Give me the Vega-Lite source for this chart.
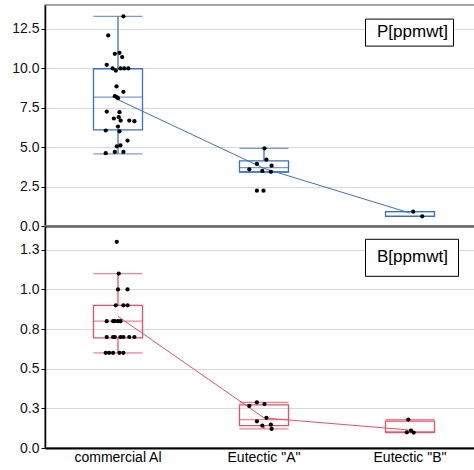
{
  "$schema": "https://vega.github.io/schema/vega-lite/v6.json",
  "padding": {"left": 11, "top": 4, "right": 0, "bottom": 0},
  "spacing": 0,
  "bounds": "flush",
  "datasets": {
    "P_points": [
      {"group": "commercial Al", "value": 13.28, "jitter": 0.22},
      {"group": "commercial Al", "value": 12.07, "jitter": -0.40},
      {"group": "commercial Al", "value": 10.97, "jitter": 0.06},
      {"group": "commercial Al", "value": 10.91, "jitter": -0.13},
      {"group": "commercial Al", "value": 10.70, "jitter": 0.17},
      {"group": "commercial Al", "value": 10.21, "jitter": -0.46},
      {"group": "commercial Al", "value": 9.98, "jitter": -0.22},
      {"group": "commercial Al", "value": 9.85, "jitter": -0.09},
      {"group": "commercial Al", "value": 9.98, "jitter": 0.10},
      {"group": "commercial Al", "value": 9.98, "jitter": 0.25},
      {"group": "commercial Al", "value": 9.98, "jitter": 0.42},
      {"group": "commercial Al", "value": 8.84, "jitter": -0.06},
      {"group": "commercial Al", "value": 8.50, "jitter": 0.22},
      {"group": "commercial Al", "value": 8.22, "jitter": -0.13},
      {"group": "commercial Al", "value": 8.16, "jitter": -0.05},
      {"group": "commercial Al", "value": 8.10, "jitter": 0.00},
      {"group": "commercial Al", "value": 7.25, "jitter": -0.46},
      {"group": "commercial Al", "value": 7.21, "jitter": 0.06},
      {"group": "commercial Al", "value": 6.81, "jitter": -0.17},
      {"group": "commercial Al", "value": 6.89, "jitter": 0.03},
      {"group": "commercial Al", "value": 6.68, "jitter": 0.11},
      {"group": "commercial Al", "value": 6.68, "jitter": 0.46},
      {"group": "commercial Al", "value": 6.64, "jitter": 0.67},
      {"group": "commercial Al", "value": 6.30, "jitter": 0.00},
      {"group": "commercial Al", "value": 6.05, "jitter": -0.50},
      {"group": "commercial Al", "value": 6.00, "jitter": 0.06},
      {"group": "commercial Al", "value": 5.41, "jitter": 0.39},
      {"group": "commercial Al", "value": 5.05, "jitter": -0.05},
      {"group": "commercial Al", "value": 5.10, "jitter": 0.10},
      {"group": "commercial Al", "value": 4.61, "jitter": -0.50},
      {"group": "commercial Al", "value": 4.69, "jitter": -0.13},
      {"group": "commercial Al", "value": 4.69, "jitter": 0.22},
      {"group": "Eutectic \"A\"", "value": 4.92, "jitter": 0.02},
      {"group": "Eutectic \"A\"", "value": 4.20, "jitter": 0.10},
      {"group": "Eutectic \"A\"", "value": 3.93, "jitter": -0.29},
      {"group": "Eutectic \"A\"", "value": 3.82, "jitter": 0.31},
      {"group": "Eutectic \"A\"", "value": 3.59, "jitter": -0.60},
      {"group": "Eutectic \"A\"", "value": 3.49, "jitter": -0.07},
      {"group": "Eutectic \"A\"", "value": 3.43, "jitter": 0.28},
      {"group": "Eutectic \"A\"", "value": 2.24, "jitter": -0.29},
      {"group": "Eutectic \"A\"", "value": 2.24, "jitter": -0.02},
      {"group": "Eutectic \"B\"", "value": 0.91, "jitter": 0.13},
      {"group": "Eutectic \"B\"", "value": 0.61, "jitter": 0.50}
    ],
    "P_stats": [
      {"group": "commercial Al", "element": "P[ppmwt]", "lower": 4.57, "q1": 6.09, "median": 8.16, "q3": 9.96, "upper": 13.28, "mean": 8.0},
      {"group": "Eutectic \"A\"", "element": "P[ppmwt]", "lower": 3.42, "q1": 3.42, "median": 3.70, "q3": 4.12, "upper": 4.92, "mean": 3.65},
      {"group": "Eutectic \"B\"", "element": "P[ppmwt]", "lower": 0.61, "q1": 0.61, "median": 0.61, "q3": 0.91, "upper": 0.91, "mean": 0.82}
    ],
    "B_points": [
      {"group": "commercial Al", "value": 1.30, "jitter": -0.05},
      {"group": "commercial Al", "value": 1.10, "jitter": 0.03},
      {"group": "commercial Al", "value": 1.00, "jitter": 0.00},
      {"group": "commercial Al", "value": 1.00, "jitter": 0.39},
      {"group": "commercial Al", "value": 0.90, "jitter": -0.09},
      {"group": "commercial Al", "value": 0.90, "jitter": 0.22},
      {"group": "commercial Al", "value": 0.90, "jitter": 0.39},
      {"group": "commercial Al", "value": 0.80, "jitter": -0.46},
      {"group": "commercial Al", "value": 0.80, "jitter": -0.20},
      {"group": "commercial Al", "value": 0.80, "jitter": -0.13},
      {"group": "commercial Al", "value": 0.80, "jitter": 0.00},
      {"group": "commercial Al", "value": 0.80, "jitter": 0.10},
      {"group": "commercial Al", "value": 0.70, "jitter": -0.46},
      {"group": "commercial Al", "value": 0.70, "jitter": -0.20},
      {"group": "commercial Al", "value": 0.70, "jitter": -0.13},
      {"group": "commercial Al", "value": 0.70, "jitter": 0.10},
      {"group": "commercial Al", "value": 0.70, "jitter": 0.22},
      {"group": "commercial Al", "value": 0.70, "jitter": 0.46},
      {"group": "commercial Al", "value": 0.70, "jitter": 0.67},
      {"group": "commercial Al", "value": 0.60, "jitter": -0.50},
      {"group": "commercial Al", "value": 0.60, "jitter": -0.36},
      {"group": "commercial Al", "value": 0.60, "jitter": -0.20},
      {"group": "commercial Al", "value": 0.60, "jitter": 0.06},
      {"group": "commercial Al", "value": 0.60, "jitter": 0.22},
      {"group": "Eutectic \"A\"", "value": 0.288, "jitter": -0.29},
      {"group": "Eutectic \"A\"", "value": 0.277, "jitter": 0.02},
      {"group": "Eutectic \"A\"", "value": 0.265, "jitter": -0.60},
      {"group": "Eutectic \"A\"", "value": 0.19, "jitter": 0.10},
      {"group": "Eutectic \"A\"", "value": 0.168, "jitter": -0.29},
      {"group": "Eutectic \"A\"", "value": 0.141, "jitter": -0.07},
      {"group": "Eutectic \"A\"", "value": 0.147, "jitter": 0.28},
      {"group": "Eutectic \"A\"", "value": 0.12, "jitter": 0.31},
      {"group": "Eutectic \"B\"", "value": 0.179, "jitter": -0.07},
      {"group": "Eutectic \"B\"", "value": 0.099, "jitter": -0.13},
      {"group": "Eutectic \"B\"", "value": 0.11, "jitter": 0.04},
      {"group": "Eutectic \"B\"", "value": 0.097, "jitter": 0.15}
    ],
    "B_stats": [
      {"group": "commercial Al", "element": "B[ppmwt]", "lower": 0.60, "q1": 0.695, "median": 0.80, "q3": 0.90, "upper": 1.10, "mean": 0.83},
      {"group": "Eutectic \"A\"", "element": "B[ppmwt]", "lower": 0.12, "q1": 0.141, "median": 0.179, "q3": 0.272, "upper": 0.288, "mean": 0.19},
      {"group": "Eutectic \"B\"", "element": "B[ppmwt]", "lower": 0.097, "q1": 0.10, "median": 0.10, "q3": 0.17, "upper": 0.179, "mean": 0.113}
    ]
  },
  "vconcat": [
    {
      "width": 438,
      "height": 221,
      "encoding": {
        "x": {"field": "group", "type": "nominal", "sort": ["commercial Al", "Eutectic \"A\"", "Eutectic \"B\""], "title": null,
              "scale": {"paddingInner": 0, "paddingOuter": 0},
              "axis": {"labels": false, "ticks": false, "domainColor": "black", "domainWidth": 2, "grid": false, "minExtent": 0, "maxExtent": 0, "labelPadding": 0}}
      },
      "layer": [
        {"data": {"name": "P_stats"}, "mark": {"type": "rule", "strokeWidth": 1.3},
         "encoding": {
           "y": {"field": "lower", "type": "quantitative", "title": null,
                 "scale": {"domain": [0, 14], "nice": false},
                 "axis": {"values": [0, 2.5, 5, 7.5, 10, 12.5], "format": ".1f", "labelOverlap": false}},
           "y2": {"field": "q1"},
           "color": {"field": "element", "type": "nominal", "scale": {"range": ["#3a70c8"]},
                     "legend": {"orient": "none", "legendX": 320, "legendY": 13.6, "title": null, "strokeColor": "black", "fillColor": "white",
                                "padding": 5, "labelOffset": -10, "labelFontSize": 17, "labelColor": "black",
                                "symbolSize": 1, "symbolOpacity": 0, "symbolStrokeWidth": 0,
                                "labelExpr": "datum.label + '            '"}}
         }},
        {"data": {"name": "P_stats"}, "mark": {"type": "rule", "strokeWidth": 1.3},
         "encoding": {"y": {"field": "q3", "type": "quantitative", "title": null}, "y2": {"field": "upper"},
                      "color": {"field": "element", "type": "nominal"}}},
        {"data": {"name": "P_stats"}, "mark": {"type": "bar", "filled": false, "size": 49, "strokeWidth": 1.3},
         "encoding": {"y": {"field": "q1", "type": "quantitative", "title": null}, "y2": {"field": "q3"},
                      "color": {"field": "element", "type": "nominal"}}},
        {"data": {"name": "P_stats"}, "mark": {"type": "tick", "size": 49, "thickness": 1.3},
         "encoding": {"y": {"field": "lower", "type": "quantitative", "title": null}, "color": {"field": "element", "type": "nominal"}}},
        {"data": {"name": "P_stats"}, "mark": {"type": "tick", "size": 49, "thickness": 1.3},
         "encoding": {"y": {"field": "upper", "type": "quantitative", "title": null}, "color": {"field": "element", "type": "nominal"}}},
        {"data": {"name": "P_stats"}, "mark": {"type": "tick", "size": 49, "thickness": 1.3},
         "encoding": {"y": {"field": "median", "type": "quantitative", "title": null}, "color": {"field": "element", "type": "nominal"}}},
        {"data": {"name": "P_stats"}, "mark": {"type": "line", "strokeWidth": 1},
         "encoding": {"y": {"field": "mean", "type": "quantitative", "title": null}, "color": {"field": "element", "type": "nominal"}}},
        {"data": {"name": "P_points"}, "mark": {"type": "circle", "size": 18, "opacity": 1, "color": "black"},
         "encoding": {"xOffset": {"field": "jitter", "type": "quantitative", "scale": {"domain": [-1, 1], "range": [48.5, 97.5]}},
                      "y": {"field": "value", "type": "quantitative", "title": null}}}
      ]
    },
    {
      "width": 438,
      "height": 222,
      "encoding": {
        "x": {"field": "group", "type": "nominal", "sort": ["commercial Al", "Eutectic \"A\"", "Eutectic \"B\""], "title": null,
              "scale": {"paddingInner": 0, "paddingOuter": 0},
              "axis": {"labelAngle": 0, "labelFontSize": 14, "labelColor": "black", "ticks": false, "labelPadding": 2,
                       "domainColor": "black", "domainWidth": 2, "grid": false}}
      },
      "layer": [
        {"data": {"name": "B_stats"}, "mark": {"type": "rule", "strokeWidth": 1.3},
         "encoding": {
           "y": {"field": "lower", "type": "quantitative", "title": null,
                 "scale": {"domain": [0, 1.4], "nice": false},
                 "axis": {"values": [0, 0.25, 0.5, 0.75, 1, 1.25], "format": ".1f", "labelOverlap": false}},
           "y2": {"field": "q1"},
           "color": {"field": "element", "type": "nominal", "scale": {"range": ["#ee4d63"]},
                     "legend": {"orient": "none", "legendX": 320, "legendY": 12.8, "title": null, "strokeColor": "black", "fillColor": "white",
                                "padding": 10, "labelOffset": -15, "labelFontSize": 17, "labelColor": "black",
                                "symbolSize": 1, "symbolOpacity": 0, "symbolStrokeWidth": 0,
                                "labelExpr": "datum.label + '            '"}}
         }},
        {"data": {"name": "B_stats"}, "mark": {"type": "rule", "strokeWidth": 1.3},
         "encoding": {"y": {"field": "q3", "type": "quantitative", "title": null}, "y2": {"field": "upper"},
                      "color": {"field": "element", "type": "nominal"}}},
        {"data": {"name": "B_stats"}, "mark": {"type": "bar", "filled": false, "size": 49, "strokeWidth": 1.3},
         "encoding": {"y": {"field": "q1", "type": "quantitative", "title": null}, "y2": {"field": "q3"},
                      "color": {"field": "element", "type": "nominal"}}},
        {"data": {"name": "B_stats"}, "mark": {"type": "tick", "size": 49, "thickness": 1.3},
         "encoding": {"y": {"field": "lower", "type": "quantitative", "title": null}, "color": {"field": "element", "type": "nominal"}}},
        {"data": {"name": "B_stats"}, "mark": {"type": "tick", "size": 49, "thickness": 1.3},
         "encoding": {"y": {"field": "upper", "type": "quantitative", "title": null}, "color": {"field": "element", "type": "nominal"}}},
        {"data": {"name": "B_stats"}, "mark": {"type": "tick", "size": 49, "thickness": 1.3},
         "encoding": {"y": {"field": "median", "type": "quantitative", "title": null}, "color": {"field": "element", "type": "nominal"}}},
        {"data": {"name": "B_stats"}, "mark": {"type": "line", "strokeWidth": 1},
         "encoding": {"y": {"field": "mean", "type": "quantitative", "title": null}, "color": {"field": "element", "type": "nominal"}}},
        {"data": {"name": "B_points"}, "mark": {"type": "circle", "size": 18, "opacity": 1, "color": "black"},
         "encoding": {"xOffset": {"field": "jitter", "type": "quantitative", "scale": {"domain": [-1, 1], "range": [48.5, 97.5]}},
                      "y": {"field": "value", "type": "quantitative", "title": null}}}
      ]
    }
  ],
  "resolve": {"scale": {"color": "independent", "y": "independent"}, "legend": {"color": "independent"}},
  "config": {
    "view": {"stroke": "#8a8a8a", "strokeWidth": 1.5},
    "font": "Liberation Sans",
    "axisY": {"domainColor": "black", "domainWidth": 1.5, "tickColor": "black", "tickSize": 4, "labelFontSize": 14,
              "labelColor": "#111111", "labelPadding": 2, "grid": true, "gridColor": "#d9d9d9", "gridWidth": 1}
  }
}
